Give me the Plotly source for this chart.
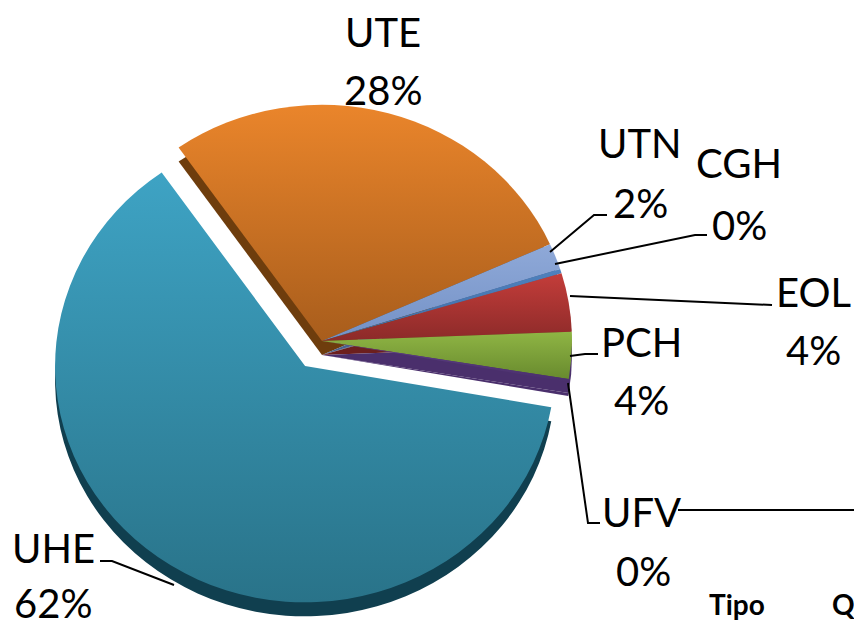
import plotly.graph_objects as go

# Data
labels = ["UTE", "UTN", "CGH", "EOL", "PCH", "UFV", "UHE"]
values = [28, 1.8, 0.3, 4, 3.2, 0.2, 62.5]
percent_text = ["28%", "2%", "0%", "4%", "4%", "0%", "62%"]
pull = [0, 0, 0, 0, 0, 0, 0.126]
top_light = ["#ea852b", "#8fa9d8", "#4f81bd", "#c43d3a", "#8fb544", "#5d3f85", "#3ea3c4"]
top_dark = ["#a85d1c", "#7391c6", "#3f6ca6", "#8c2a29", "#688a2e", "#4a2f6c", "#297389"]
side_colors = ["#6e3d0d", "#4a628f", "#2e4d79", "#6c1f1e", "#4a2f6c", "#4a2f6c", "#103f4f"]

label_pos = {"UTE": (383, 32), "UTN": (640, 143), "CGH": (739, 163), "EOL": (813, 292),
             "PCH": (641, 342), "UFV": (641, 512), "UHE": (53, 548)}
pct_pos = {"UTE": (383, 90), "UTN": (640, 203), "CGH": (739, 225), "EOL": (813, 350),
           "PCH": (641, 400), "UFV": (643, 571), "UHE": (53, 603)}
leaders = [
    [(550, 252), (594, 215), (607, 215)],
    [(555, 264), (695, 235), (707, 235)],
    [(570, 296), (772, 305)],
    [(570, 356), (585, 354), (598, 354)],
    [(568, 383), (588, 523), (600, 523)],
    [(678, 510), (854, 510)],
    [(174, 585), (112, 561), (100, 561)],
]
extra_text = [("Tipo", 737, 604), ("Q", 843, 604)]

W, H = 854, 621
CX, CY, HALF = 322, 320, 281.5
ROTATION = 325
FONT = "Lato, Carlito, 'Open Sans', sans-serif"

def px(x):
    return x / W

def py(y):
    return 1 - y / H

domain = dict(x=[px(CX - HALF), px(CX + HALF)], y=[py(CY + HALF), py(CY - HALF)])
common = dict(labels=labels, values=values, sort=False, direction="clockwise", rotation=ROTATION,
              pull=pull, textinfo="none", hoverinfo="skip", showlegend=False, domain=domain)

fig = go.Figure()
fig.add_trace(go.Pie(marker=dict(colors=side_colors, line=dict(width=0)), **common))
fig.add_trace(go.Pie(marker=dict(colors=top_dark, line=dict(width=0)), **common))

anns = []
def add_text(text, x, y, size):
    anns.append(dict(x=px(x), y=py(y), text=text, xref="paper", yref="paper", showarrow=False,
                     xanchor="center", yanchor="middle",
                     font=dict(family=FONT, size=size, color="#000")))

for name, pct in zip(labels, percent_text):
    add_text(name, *label_pos[name], 40)
    add_text(pct, *pct_pos[name], 40)
for t, x, y in extra_text:
    add_text("<b>%s</b>" % t, x, y, 28)

shapes = []
for pts in leaders:
    d = "M " + " L ".join("%.5f %.5f" % (px(a), py(b)) for a, b in pts)
    shapes.append(dict(type="path", path=d, xref="paper", yref="paper",
                       line=dict(color="#000", width=2)))

fig.update_layout(width=W, height=H, margin=dict(l=0, r=0, t=0, b=0), paper_bgcolor="white",
                  annotations=anns, shapes=shapes)

post = """
document.body.style.margin = '0';
document.documentElement.style.overflow = 'hidden';
var gd = document.getElementById('{plot_id}');
var svg = gd.querySelector('svg.main-svg');
var NS = 'http://www.w3.org/2000/svg';
var defs = document.createElementNS(NS, 'defs');
svg.insertBefore(defs, svg.firstChild);
var light = %s, dark = %s;
light.forEach(function (c, i) {
  var g = document.createElementNS(NS, 'linearGradient');
  g.setAttribute('id', 'pg' + i);
  g.setAttribute('x1', '0'); g.setAttribute('y1', '0'); g.setAttribute('x2', '0'); g.setAttribute('y2', '1');
  [[0, c], [1, dark[i]]].forEach(function (s) {
    var st = document.createElementNS(NS, 'stop');
    st.setAttribute('offset', s[0]); st.setAttribute('stop-color', s[1]);
    g.appendChild(st);
  });
  defs.appendChild(g);
});
var traces = gd.querySelectorAll('.pielayer .trace');
var cx = %f, cy = %f;
traces.forEach(function (t, k) {
  var dy = (k === 0 ? 35 : 21);
  t.setAttribute('transform', 'translate(' + cx + ',' + (cy + dy) + ') scale(1,0.945) translate(' + (-cx) + ',' + (-cy) + ')');
  if (k === 1) {
    t.querySelectorAll('.slice path.surface').forEach(function (p, i) {
      p.style.fill = 'url(#pg' + i + ')';
    });
  }
});
""" % (str(top_light), str(top_dark), CX, CY)

fig.write_html("out.html", post_script=post, config={"displayModeBar": False})
